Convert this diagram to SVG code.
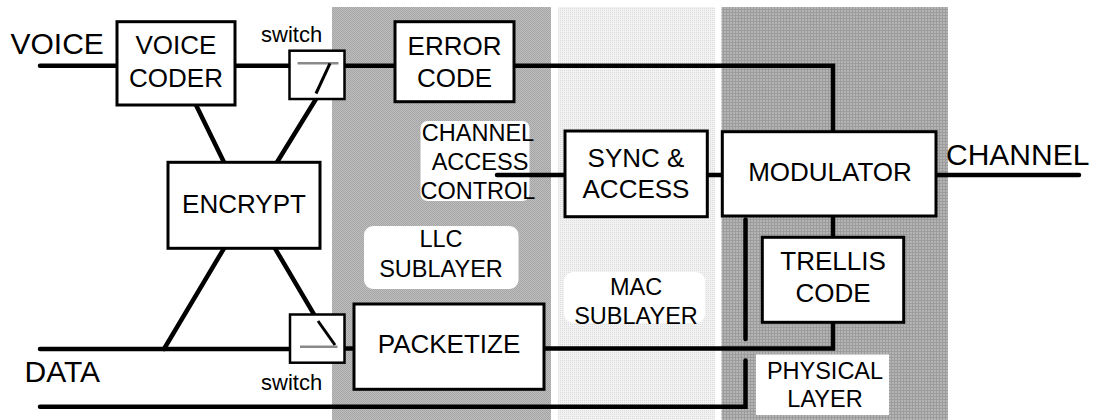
<svg xmlns="http://www.w3.org/2000/svg" width="1099" height="420" viewBox="0 0 1099 420">
<style>
text{font-family:"Liberation Sans",Arial,sans-serif;fill:#000}
.box{fill:#fff;stroke:#000;stroke-width:3}
.sw{fill:#fff;stroke:#000;stroke-width:2.5}
.bt{font-size:26px;text-anchor:middle}
.big{font-size:30px}
.lbl{font-size:23.5px;text-anchor:middle}
.swt{font-size:22px}
.conn{fill:none;stroke:#000;stroke-width:4.5;stroke-linecap:round;stroke-linejoin:miter}
.bg{fill:#fff}
</style>
<defs>
<pattern id="pLLC" width="2" height="2" patternUnits="userSpaceOnUse">
<rect width="2" height="2" fill="#bdbdbd"/><rect width="1" height="1" fill="#a6a6a6"/><rect x="1" y="1" width="1" height="1" fill="#a6a6a6"/>
</pattern>
<pattern id="pMAC" width="2" height="2" patternUnits="userSpaceOnUse">
<rect width="2" height="2" fill="#f2f2f2"/><rect width="1" height="1" fill="#dcdcdc"/>
</pattern>
<pattern id="pPHY" width="3" height="3" patternUnits="userSpaceOnUse">
<rect width="3" height="3" fill="#b4b4b4"/><rect width="3" height="1" fill="#9c9c9c"/><rect width="1" height="3" fill="#9c9c9c"/>
</pattern>
</defs>

<g id="bands">
<rect x="332" y="7" width="219" height="413" fill="url(#pLLC)"/>
<rect x="558" y="7" width="157" height="413" fill="url(#pMAC)"/>
<rect x="721.5" y="7" width="226.5" height="413" fill="url(#pPHY)"/>
</g>

<g id="layer-labels">
<g id="cac-label">
<rect class="bg" x="420.5" y="121" width="109" height="80" rx="7"/>
<text class="lbl" x="478" y="140.5">CHANNEL</text>
<text class="lbl" x="480" y="170">ACCESS</text>
<text class="lbl" x="478" y="198.5">CONTROL</text>
</g>
<g id="llc-label">
<rect class="bg" x="364" y="226" width="154.5" height="63" rx="9"/>
<text class="lbl" x="441" y="246.5">LLC</text>
<text class="lbl" x="441" y="276.5">SUBLAYER</text>
</g>
<g id="mac-label">
<rect class="bg" x="564" y="272" width="141" height="51" rx="9"/>
<text class="lbl" x="636" y="295">MAC</text>
<text class="lbl" x="636" y="324">SUBLAYER</text>
</g>
<g id="phy-label">
<rect class="bg" x="756" y="354.5" width="133" height="60.5"/>
<text class="lbl" x="825" y="378.5">PHYSICAL</text>
<text class="lbl" x="825" y="406.5">LAYER</text>
</g>
</g>

<g id="connectors">
<path class="conn" d="M40,65.7 H117"/>
<path class="conn" d="M235,65.7 H289"/>
<path class="conn" d="M344.5,65.7 H395"/>
<path class="conn" d="M514,65.7 H833 V132"/>
<path class="conn" d="M196,105 L224,162.3"/>
<path class="conn" d="M316,99 L277,162.3"/>
<path class="conn" d="M224,248.3 L164,349"/>
<path class="conn" d="M275,248.3 L314,314.3"/>
<path class="conn" d="M40,349 H290"/>
<path class="conn" d="M344.5,348.5 H354"/>
<path class="conn" d="M544,348.5 H833 V322"/>
<path class="conn" d="M40,406.7 H745.5 V360.5"/>
<path class="conn" d="M745.5,219.5 V339"/>
<path class="conn" d="M497,175 H565"/>
<path class="conn" d="M707,175 H722"/>
<path class="conn" d="M936,175 H1079"/>
<path class="conn" d="M833,216 V237.5"/>
</g>

<g id="voice-label"><text class="big" x="10.5" y="54">VOICE</text></g>
<g id="data-label"><text class="big" x="24.5" y="381.5">DATA</text></g>
<g id="channel-label"><text class="big" x="946" y="164.5">CHANNEL</text></g>

<g id="voice-coder">
<rect class="box" x="117" y="21.7" width="118" height="83.3"/>
<text class="bt" x="176" y="54">VOICE</text>
<text class="bt" x="176" y="86.7">CODER</text>
</g>

<g id="switch-top">
<text class="swt" x="261" y="41.7">switch</text>
<rect class="sw" x="289.5" y="50.7" width="55" height="48.3"/>
<line x1="297.5" y1="63.3" x2="338.5" y2="63.3" stroke="#8a8a8a" stroke-width="2.5"/>
<line x1="330" y1="63.3" x2="316" y2="93.5" stroke="#000" stroke-width="3"/>
</g>

<g id="error-code">
<rect class="box" x="395" y="21.7" width="119" height="80"/>
<text class="bt" x="454.5" y="55">ERROR</text>
<text class="bt" x="454.5" y="87.3">CODE</text>
</g>

<g id="encrypt">
<rect class="box" x="168" y="162.3" width="152" height="86"/>
<text class="bt" x="244" y="212.7">ENCRYPT</text>
</g>

<g id="switch-bottom">
<rect class="sw" x="290" y="314.5" width="54.5" height="48.2"/>
<line x1="300" y1="346.7" x2="337.5" y2="346.7" stroke="#8a8a8a" stroke-width="2.5"/>
<line x1="318" y1="321" x2="335" y2="345" stroke="#000" stroke-width="3"/>
<text class="swt" x="261" y="390">switch</text>
</g>

<g id="packetize">
<rect class="box" x="354" y="304" width="190" height="85.3"/>
<text class="bt" x="449" y="353.3">PACKETIZE</text>
</g>

<g id="sync-access">
<rect class="box" x="565" y="131" width="142.3" height="85.7"/>
<text class="bt" x="636" y="166.7">SYNC &amp;</text>
<text class="bt" x="636" y="198.3">ACCESS</text>
</g>

<g id="modulator">
<rect class="box" x="722.3" y="131.7" width="213.7" height="84.3"/>
<text class="bt" x="830" y="181">MODULATOR</text>
</g>

<g id="trellis-code">
<rect class="box" x="762.3" y="237.3" width="141.4" height="85"/>
<text class="bt" x="833" y="270">TRELLIS</text>
<text class="bt" x="833" y="302">CODE</text>
</g>
</svg>
